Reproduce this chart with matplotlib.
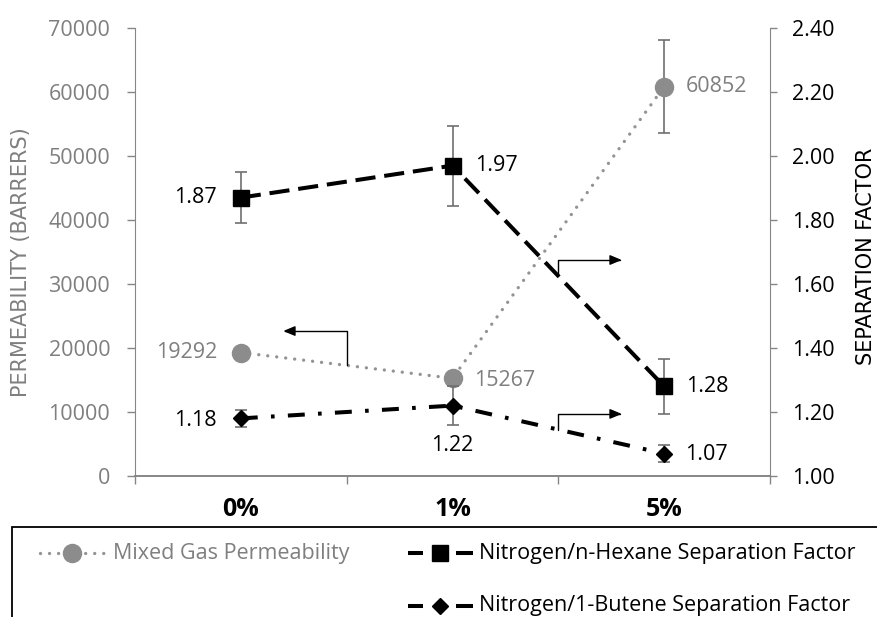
import numpy as np
import matplotlib
matplotlib.use("Agg")
import matplotlib.pyplot as plt
from matplotlib.lines import Line2D
from matplotlib.patches import Rectangle

plt.rcParams['font.family'] = ['Open Sans', 'DejaVu Sans']

# ── Data ──────────────────────────────────────────────────────────────────────
categories = ["0%", "1%", "5%"]
perm       = [19292, 15267, 60852]
perm_err   = [0, 0, 7200]
hexane_sf  = [1.87, 1.97, 1.28]
hexane_err = [0.08, 0.125, 0.085]
butene_sf  = [1.18, 1.22, 1.07]
butene_err = [0.027, 0.06, 0.027]
perm_ticks = [0, 10000, 20000, 30000, 40000, 50000, 60000, 70000]
sf_ticks   = [1.00, 1.20, 1.40, 1.60, 1.80, 2.00, 2.20, 2.40]

GRAY_TXT = "#7f7f7f"; GRAY_AX = "#868686"; GRAY_ERR = "#707070"
FS = 15.5

W, H = 877, 617
fig = plt.figure(figsize=(W/100, H/100), dpi=100)
ax  = fig.add_axes([135/W, 1-476/H, 635/W, 448/H])
ax2 = ax.twinx()
x = np.arange(len(categories))

# ── Series ────────────────────────────────────────────────────────────────────
ax.errorbar(x, perm, yerr=perm_err, fmt="none", ecolor=GRAY_ERR, elinewidth=1.2, capsize=4.5, capthick=1.2, zorder=2)
ax.plot(x, perm, color="#939393", lw=2.4, linestyle=(0, (0.01, 2.7)), dash_capstyle="round",
        marker="o", ms=13, mfc="#8c8c8c", mec="#8c8c8c", zorder=3)

ax2.errorbar(x, hexane_sf, yerr=hexane_err, fmt="none", ecolor=GRAY_ERR, elinewidth=1.2, capsize=4.5, capthick=1.2, zorder=2)
ax2.plot(x, hexane_sf, color="black", lw=2.9, dashes=(5, 2.2), marker="s", ms=12, zorder=3)

ax2.errorbar(x, butene_sf, yerr=butene_err, fmt="none", ecolor=GRAY_ERR, elinewidth=1.2, capsize=4.5, capthick=1.2, zorder=2)
ax2.plot(x, butene_sf, color="black", lw=2.9, dashes=(4.2, 3.3, 0.9, 3.3), marker="D", ms=8.5, zorder=3)

# ── Data labels ───────────────────────────────────────────────────────────────
perm_off   = [(-24, 0, "right"), (22, -2, "left"), (22, 0, "left")]
hexane_off = [(-24, 0, "right"), (23, 0, "left"), (22, 0, "left")]
butene_off = [(-24, -2, "right"), (0, -40, "center"), (21, -1, "left")]
for xi, v, (dx, dy, ha) in zip(x, perm, perm_off):
    ax.annotate(f"{v}", (xi, v), xytext=(dx, dy), textcoords="offset pixels", ha=ha, va="center",
                fontsize=FS, color=GRAY_TXT)
for xi, v, (dx, dy, ha) in zip(x, hexane_sf, hexane_off):
    ax2.annotate(f"{v:.2f}", (xi, v), xytext=(dx, dy), textcoords="offset pixels", ha=ha, va="center",
                 fontsize=FS, color="black")
for xi, v, (dx, dy, ha) in zip(x, butene_sf, butene_off):
    ax2.annotate(f"{v:.2f}", (xi, v), xytext=(dx, dy), textcoords="offset pixels", ha=ha, va="center",
                 fontsize=FS, color="black")

# ── Axis-pointer arrows ───────────────────────────────────────────────────────
arw = dict(arrowstyle="-|>,head_length=0.6,head_width=0.25", connectionstyle="angle,angleA=90,angleB=0,rad=0",
           color="black", lw=1.0, shrinkA=0, shrinkB=0, mutation_scale=12)
ax.annotate("", xy=(0.2, 22650), xytext=(0.5, np.mean(perm[:2])), arrowprops=arw)
ax2.annotate("", xy=(1.8, 1.675), xytext=(1.5, np.mean(hexane_sf[1:])), arrowprops=arw)
ax2.annotate("", xy=(1.8, 1.194), xytext=(1.5, np.mean(butene_sf[1:])), arrowprops=arw)

# ── Axes styling ──────────────────────────────────────────────────────────────
ax.set_xlim(-0.5, 2.5)
ax.set_ylim(0, 70000); ax2.set_ylim(1.0, 2.4)
ax.set_yticks(perm_ticks); ax.set_yticklabels([f"{t}" for t in perm_ticks])
ax2.set_yticks(sf_ticks); ax2.set_yticklabels([f"{t:.2f}" for t in sf_ticks])
ax.set_xticks(x); ax.set_xticklabels(categories, fontweight="bold")
ax.set_xticks(np.arange(len(categories)+1) - 0.5, minor=True)
for lbl in ax.get_xticklabels():
    lbl.set_x(lbl.get_position()[0])

ax.tick_params(axis="x", which="major", length=0, pad=15, labelsize=18, labelcolor="black")
ax.tick_params(axis="x", which="minor", length=5.8, width=1, color=GRAY_AX, direction="out")
ax.tick_params(axis="y", length=5.8, width=1, color=GRAY_AX, labelcolor=GRAY_TXT, labelsize=FS, pad=12)
ax2.tick_params(axis="y", length=5, width=1, color=GRAY_AX, labelcolor="black", labelsize=FS, pad=11)

for s in ["top", "right"]:
    ax.spines[s].set_visible(False)
for s in ["top", "left", "bottom"]:
    ax2.spines[s].set_visible(False)
ax.spines["left"].set_color(GRAY_AX); ax.spines["bottom"].set_color(GRAY_AX)
ax.spines["bottom"].set_linewidth(1.4)
ax2.spines["right"].set_color(GRAY_AX)

# axis titles placed by pixel centre
def fx(px): return px / W
def fy(py): return 1 - py / H

fig.text(fx(21), fy(262), "PERMEABILITY (BARRERS)", color=GRAY_TXT, fontsize=15, family="DejaVu Sans",
         rotation=90, ha="center", va="center")
fig.text(fx(866), fy(256), "SEPARATION FACTOR", color="black", fontsize=15, family="DejaVu Sans",
         rotation=90, ha="center", va="center")

# ── Legend (drawn by hand in figure pixels) ───────────────────────────────────
fig.add_artist(Rectangle((fx(12), fy(640)), fx(900), 113/H, transform=fig.transFigure,
                         fill=False, edgecolor="black", lw=1.3, clip_on=False))
row1, row2 = 553, 606
fig.add_artist(Line2D([fx(40), fx(104)], [fy(row1)]*2, transform=fig.transFigure, color="#939393", lw=2.4,
                      linestyle=(0, (0.01, 2.7)), dash_capstyle="round"))
fig.add_artist(Line2D([fx(72)], [fy(row1)], transform=fig.transFigure, marker="o", ms=13,
                      mfc="#8c8c8c", mec="#8c8c8c", ls="none"))
fig.text(fx(113), fy(row1), "Mixed Gas Permeability", color=GRAY_TXT, fontsize=15.5, va="center")
for ry, mk, ms, lab in [(row1, "s", 12, "Nitrogen/n-Hexane Separation Factor"),
                        (row2, "D", 8.5, "Nitrogen/1-Butene Separation Factor")]:
    for seg in [(408, 423), (456, 473)]:
        fig.add_artist(Line2D([fx(seg[0]), fx(seg[1])], [fy(ry)]*2, transform=fig.transFigure,
                              color="black", lw=2.9, solid_capstyle="butt"))
    fig.add_artist(Line2D([fx(440)], [fy(ry)], transform=fig.transFigure, marker=mk, ms=ms,
                          color="black", ls="none"))
    fig.text(fx(479), fy(ry), lab, color="black", fontsize=15.5, va="center")

fig.savefig("out.png", dpi=100)
